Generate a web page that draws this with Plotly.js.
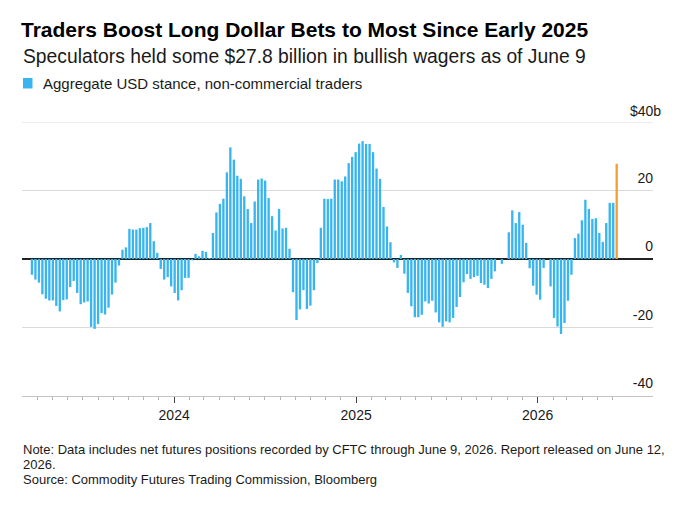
<!DOCTYPE html>
<html>
<head>
<meta charset="utf-8">
<script src="https://cdn.plot.ly/plotly-3.0.1.min.js"></script>
<style>
html,body{margin:0;padding:0;background:#fff;}
#chart{width:680px;height:507px;}
</style>
</head>
<body>
<div id="chart"></div>
<script>
// Weekly CFTC report dates (Tuesdays), first and last
var firstDate = '2023-03-21';
var lastDate = '2026-06-09';

// Aggregate USD stance, non-commercial traders ($ billions), weekly; null = no report
var usdStance = [
  -4.6, -6.0, -6.9, -10.3, -11.6, -12.1, -12.1, -13.7, -15.3, -12.0,
  -11.8, -8.2, -6.4, -9.9, -13.2, -12.7, -12.4, -19.8, -20.4, -19.0,
  -15.8, -16.2, -14.2, -10.4, -6.9, -1.9, 2.7, 3.4, 8.8, 8.6,
  8.6, 9.0, 9.1, 9.3, 10.5, 5.2, 1.8, -2.9, -6.0, -5.3,
  -8.0, -9.9, -12.1, -9.1, -5.5, -5.5, -0.4, 1.5, 0.8, 2.4,
  2.1, 0.3, 7.6, 13.6, 16.1, 17.6, 25.3, 32.6, 29.0, 24.3,
  23.4, 18.3, 14.6, 10.5, 16.8, 23.2, 23.5, 22.9, 17.8, 12.5,
  8.3, 14.6, 8.9, 9.1, 3.0, -9.7, -17.8, -14.7, -9.1, -14.6,
  -13.6, -9.1, -1.2, 9.1, 17.6, 17.5, 17.6, 23.2, 23.2, 22.7,
  24.1, 28.0, 29.8, 31.2, 33.7, 34.4, 33.6, 33.6, 31.2, 26.4,
  23.4, 15.2, 9.5, 4.9, -1.0, -2.6, 1.2, -4.3, -9.9, -13.8,
  -17.0, -17.0, -16.3, -12.4, -13.0, -12.2, -15.6, -18.5, -19.8, -18.2,
  -18.5, -17.2, -14.0, -11.1, -6.8, -4.4, -5.8, -5.3, -4.9, -7.0,
  -7.5, -8.5, -5.8, -3.6, null, -1.4, null, 7.8, 14.2, 10.5,
  13.7, 10.0, 4.7, -2.7, -7.8, -10.4, -11.9, -2.6, null, -8.0,
  -17.2, -19.7, -21.9, -18.7, -12.2, -4.6, 6.1, 7.4, 11.3, 17.3,
  14.6, 11.7, 11.9, 7.6, 5.0, 10.5, 16.4, 16.4, 27.8
];

// Axis ticks
var yearTicks = ['2024-01-01', '2025-01-01', '2026-01-01'];
var yearLabels = ['2024', '2025', '2026'];
var monthTicks = [
  '2023-04-01','2023-05-01','2023-06-01','2023-07-01','2023-08-01','2023-09-01',
  '2023-10-01','2023-11-01','2023-12-01',
  '2024-02-01','2024-03-01','2024-04-01','2024-05-01','2024-06-01','2024-07-01',
  '2024-08-01','2024-09-01','2024-10-01','2024-11-01','2024-12-01',
  '2025-02-01','2025-03-01','2025-04-01','2025-05-01','2025-06-01','2025-07-01',
  '2025-08-01','2025-09-01','2025-10-01','2025-11-01','2025-12-01',
  '2026-02-01','2026-03-01','2026-04-01','2026-05-01','2026-06-01'
];
var yTickVals = [-40, -20, 0, 20, 40];
var yTickText = ['-40', '-20', '0', '20', ''];
var yTop = 40;
var yTopLabel = '$40b';

var blue = '#38b4ef';
var orange = '#f3a031';

// build weekly date list
var dates = [];
var d0 = new Date(firstDate + 'T00:00:00Z');
for (var i = 0; i < usdStance.length; i++) {
  var d = new Date(d0.getTime() + i * 7 * 86400000);
  dates.push(d.toISOString().slice(0, 10));
}
var colors = usdStance.map(function (v, i) { return i === usdStance.length - 1 ? orange : blue; });

var FONT = 'Liberation Sans, Arial, Helvetica, sans-serif';

var trace = {
  type: 'bar',
  x: dates,
  y: usdStance,
  marker: { color: colors, line: { width: 0 } },
  hoverinfo: 'skip',
  showlegend: false
};

// pixel helpers for paper coordinates
var L = 22, R = 27, T = 122, B = 111, W = 680, H = 507;
var pw = W - L - R, ph = H - T - B;
function px(x) { return (x - L) / pw; }
function py(y) { return (H - B - y) / ph; }

var layout = {
  width: W, height: H,
  margin: { l: L, r: R, t: T, b: B, pad: 0 },
  paper_bgcolor: '#fff', plot_bgcolor: '#fff',
  bargap: 0.33,
  font: { family: FONT, color: '#1a1a1a', size: 14 },
  title: {
    text: '<b>Traders Boost Long Dollar Bets to Most Since Early 2025</b>',
    font: { family: FONT, size: 21, color: '#000' },
    xref: 'container', x: 21 / W, xanchor: 'left',
    yref: 'container', y: 1 - 29.5 / H, yanchor: 'middle',
    pad: { t: 0, b: 0, l: 0, r: 0 }
  },
  xaxis: {
    type: 'date',
    range: ['2023-03-01', '2026-08-21'],
    tickmode: 'array', tickvals: yearTicks, ticktext: yearLabels,
    ticks: 'outside', ticklen: 6, tickwidth: 1, tickcolor: '#444',
    showline: true, linecolor: '#c4c4c4', linewidth: 1,
    showgrid: false, zeroline: false,
    tickfont: { family: FONT, size: 14, color: '#1a1a1a' },
    minor: { tickmode: 'array', tickvals: monthTicks, ticks: 'outside', ticklen: 3, tickwidth: 1, tickcolor: '#b5b5b5', showgrid: false },
    fixedrange: true
  },
  yaxis: {
    range: [-40, 40],
    side: 'right',
    tickmode: 'array', tickvals: yTickVals, ticktext: yTickText,
    ticklabelposition: 'inside top',
    ticklabelshift: -3,
    ticklabelstandoff: -3,
    ticks: '',
    showgrid: true, gridcolor: '#dadada', gridwidth: 1,
    zeroline: true, zerolinecolor: '#222', zerolinewidth: 1.3,
    showline: false,
    tickfont: { family: FONT, size: 14, color: '#1a1a1a' },
    fixedrange: true
  },
  shapes: [
    { type: 'line', xref: 'paper', yref: 'y', x0: 0, x1: 1, y0: yTop, y1: yTop,
      line: { color: '#dadada', width: 1 }, layer: 'below' },
    { type: 'rect', xref: 'paper', yref: 'paper', x0: px(23), x1: px(32.5), y0: py(88.5), y1: py(78),
      fillcolor: blue, line: { width: 0 } }
  ],
  annotations: [
    { text: 'Speculators held some $27.8 billion in bullish wagers as of June 9',
      xref: 'paper', yref: 'paper', x: px(21), y: py(56.5), xanchor: 'left', yanchor: 'middle',
      showarrow: false, font: { family: FONT, size: 19.3, color: '#1a1a1a' } },
    { text: 'Aggregate USD stance, non-commercial traders',
      xref: 'paper', yref: 'paper', x: px(41), y: py(83.5), xanchor: 'left', yanchor: 'middle',
      showarrow: false, font: { family: FONT, size: 15, color: '#1a1a1a' } },
    { text: yTopLabel,
      xref: 'paper', yref: 'paper', x: px(663), y: py(111), xanchor: 'right', yanchor: 'middle',
      showarrow: false, font: { family: FONT, size: 14, color: '#1a1a1a' } },
    { text: 'Note: Data includes net futures positions recorded by CFTC through June 9, 2026. Report released on June 12,',
      xref: 'paper', yref: 'paper', x: px(21), y: py(449.5), xanchor: 'left', yanchor: 'middle',
      showarrow: false, font: { family: FONT, size: 13, color: '#1a1a1a' } },
    { text: '2026.',
      xref: 'paper', yref: 'paper', x: px(21), y: py(464.5), xanchor: 'left', yanchor: 'middle',
      showarrow: false, font: { family: FONT, size: 13, color: '#1a1a1a' } },
    { text: 'Source: Commodity Futures Trading Commission, Bloomberg',
      xref: 'paper', yref: 'paper', x: px(21), y: py(479), xanchor: 'left', yanchor: 'middle',
      showarrow: false, font: { family: FONT, size: 13, color: '#1a1a1a' } }
  ]
};

Plotly.newPlot('chart', [trace], layout, { displayModeBar: false, staticPlot: true });
</script>
</body>
</html>
